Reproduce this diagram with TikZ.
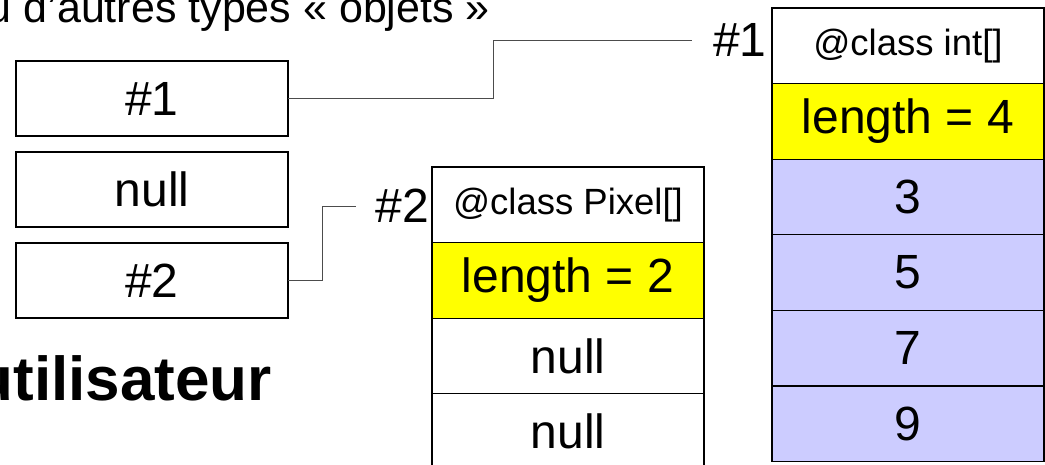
\documentclass[tikz,border=0pt]{standalone}
\usepackage{fontspec}
\setmainfont{Liberation Sans}
\usepackage[svgnames]{xcolor}
\usetikzlibrary{positioning}
\definecolor{lenfill}{RGB}{255,255,0}
\definecolor{valfill}{RGB}{204,204,255}
\tikzset{
  cell/.style={draw=black, line width=1.2pt, minimum width=272pt, minimum height=75.6pt,
    inner sep=0pt, outer sep=0pt, font=\fontsize{48}{50}\selectfont},
  head/.style={cell, font=\fontsize{36.5}{40}\selectfont},
  lencell/.style={cell, fill=lenfill},
  valcell/.style={cell, fill=valfill},
  tag/.style={inner sep=0pt, font=\fontsize{48}{50}\selectfont},
  link/.style={draw=black!70, line width=1pt}
}

\begin{document}
\begin{tikzpicture}[x=1pt, y=-1pt]
\useasboundingbox (0,0) rectangle (1045,464);
\clip (0,0) rectangle (1045,464);
\node[anchor=base east, inner sep=0pt, font=\fontsize{43}{46}\selectfont] (titre) at (490,22) {u d'autres types « objets »};
\node[anchor=base east, inner sep=0pt, font=\fontsize{62}{66}\selectfont\bfseries] (user) at (272,400) {utilisateur};

% variables locales
\node[cell, minimum height=75pt] (ref1) at (152,98.5) {\#1};
\node[cell, minimum height=75pt, below=16pt of ref1] (ref0) {null};
\node[cell, minimum height=75pt, below=16pt of ref0] (ref2) {\#2};

% tableau de Pixel
\node[head] (p0) at (568,204.8) {@class Pixel[]};
\node[lencell, below=0pt of p0] (p1) {length = 2};
\node[cell, below=0pt of p1] (p2) {null};
\node[cell, below=0pt of p2] (p3) {null};

% tableau d'int
\node[head] (i0) at (908,45.8) {@class int[]};
\node[lencell, below=0pt of i0] (i1) {length = 4};
\node[valcell, below=0pt of i1] (i2) {3};
\node[valcell, below=0pt of i2] (i3) {5};
\node[valcell, below=0pt of i3] (i4) {7};
\node[valcell, below=0pt of i4] (i5) {9};

\node[tag] (lab1) at (740,40) {\#1};
\node[tag] (lab2) at (402.5,206) {\#2};
\draw[link] (ref1.east) -- ++(205,0) |- ([xshift=-21pt]lab1.west);
\draw[link] (ref2.east) -- ++(34,0) |- ([xshift=-20pt]lab2.west);
\end{tikzpicture}
\end{document}
